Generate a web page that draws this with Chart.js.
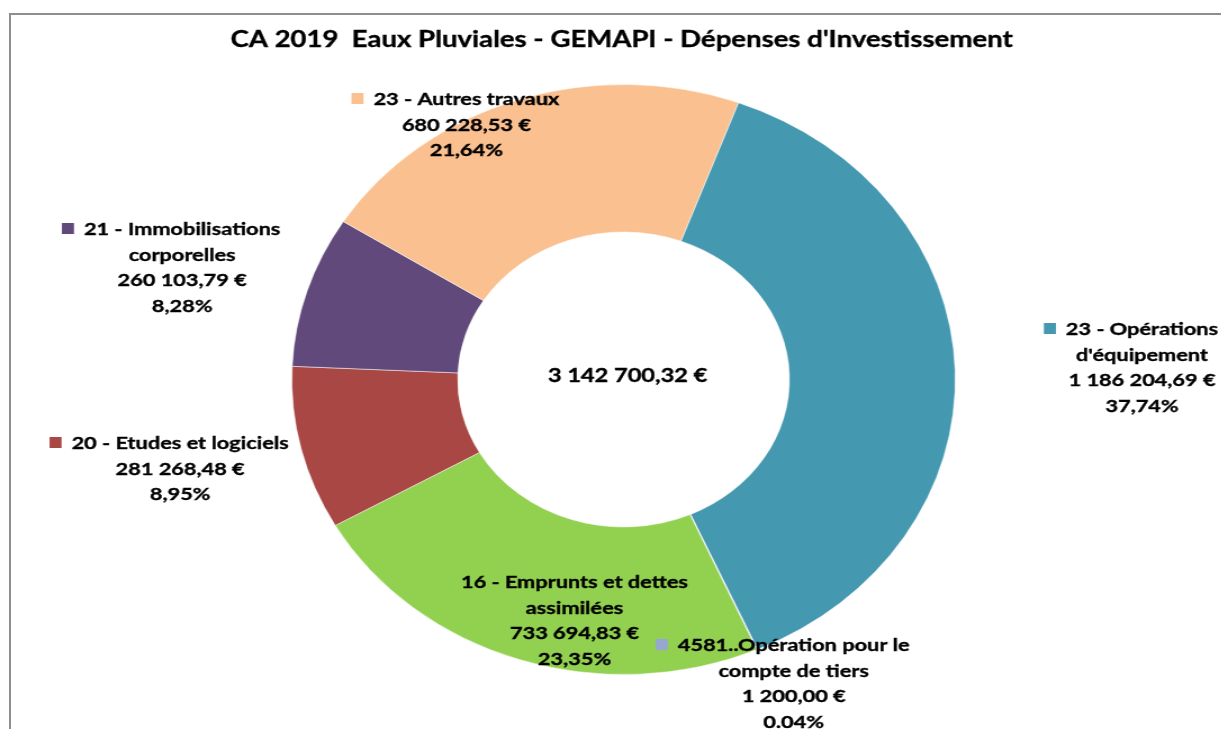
<!DOCTYPE html>
<html lang="fr">
<head>
<meta charset="UTF-8">
<title>CA 2019 Eaux Pluviales - GEMAPI</title>
<script src="https://cdn.jsdelivr.net/npm/chart.js"></script>
<style>
  html, body { margin: 0; padding: 0; background: #fff; overflow: hidden; }
  #wrap { position: absolute; left: 0; top: 0; width: 1086.8px; height: 729px; transform: scaleX(1.1235); transform-origin: 0 0; }
  #frame { position: absolute; left: 9px; top: 13px; width: 1230px; height: 730px; border-top: 2px solid #8e8e8e; border-left: 2px solid #8e8e8e; pointer-events: none; }
</style>
</head>
<body>
<div id="wrap"><canvas id="myChart"></canvas></div>
<div id="frame"></div>
<script>
const titleText = "CA 2019  Eaux Pluviales - GEMAPI - Dépenses d'Investissement";
const categories = [
    '16 - Emprunts et dettes\nassimilées',
    '20 - Etudes et logiciels',
    '21 - Immobilisations\ncorporelles',
    '23 - Autres travaux',
    "23 - Opérations\nd'équipement",
    '4581..Opération pour le\ncompte de tiers'
];
const values = [733694.83, 281268.48, 260103.79, 680228.53, 1186204.69, 1200.00];
const pctLabels = ['23,35%', '8,95%', '8,28%', '21,64%', '37,74%', '0.04%'];
const colors = ['#92D050', '#A94744', '#614A7B', '#FAC090', '#4498B0', '#98A7D2'];

// the reference picture is stretched horizontally
const S = 1.1235; // stretch of the whole chart
const TX = 1.24;  // stretch applied to the text
const LINE = 25.7;
// label block: centre x and first baseline, offset from the ring centre (picture px)
const labelOffsets = [[-49, 208.5], [-443, 69.5], [-441, -144.5], [-157, -274.5], [518, -44.5], [170, 271.5]];

function euro(v) {
    const parts = v.toFixed(2).split('.');
    return parts[0].replace(/\B(?=(\d{3})+(?!\d))/g, ' ') + ',' + parts[1] + ' €';
}

const total = values.reduce((a, b) => a + b, 0);

const ctx = document.getElementById('myChart').getContext('2d');
const myChart = new Chart(ctx, {
    type: 'doughnut',
    data: {
        labels: categories,
        datasets: [{
            data: values,
            backgroundColor: colors,
            borderColor: 'rgba(255,255,255,0.5)',
            borderWidth: 1
        }]
    },
    options: {
        responsive: true,
        maintainAspectRatio: false,
        animation: false,
        rotation: 156.3,
        cutout: '50%',
        layout: { padding: { left: 150, right: 127.8, top: 84, bottom: 54 } },
        plugins: {
            legend: { display: false },
            tooltip: { enabled: false }
        }
    },
    plugins: [{
        id: 'excelLabels',
        afterDraw: (chart) => {
            const c = chart.ctx;
            const arc = chart.getDatasetMeta(0).data[0];
            const cx = arc.x * S, cy = arc.y;
            c.save();
            c.scale(TX / S, 1);
            c.fillStyle = '#000';
            c.strokeStyle = '#000';
            c.lineWidth = 0.35;
            c.textAlign = 'center';
            c.textBaseline = 'alphabetic';
            const put = (s, x, y) => {
                c.fillText(s, x / TX, y);
                c.strokeText(s, x / TX, y);
            };

            c.font = 'bold 22.2px Lato';
            put(titleText, 621, 47);

            c.font = 'bold 19px Lato';
            put(euro(total), cx + 4, cy + 2.5);

            c.font = 'bold 17.5px Lato';
            categories.forEach((cat, i) => {
                const lines = cat.split('\n').concat([euro(values[i]), pctLabels[i]]);
                const x = cx + labelOffsets[i][0];
                const y = cy + labelOffsets[i][1];
                c.fillStyle = '#000';
                lines.forEach((ln, k) => put(ln, x, y + k * LINE));
                const w = c.measureText(lines[0]).width * TX;
                c.fillStyle = colors[i];
                c.fillRect((x - w / 2 - 22) / TX, y - 12, 12 / TX, 11);
            });
            c.restore();
        }
    }]
});
</script>
</body>
</html>
